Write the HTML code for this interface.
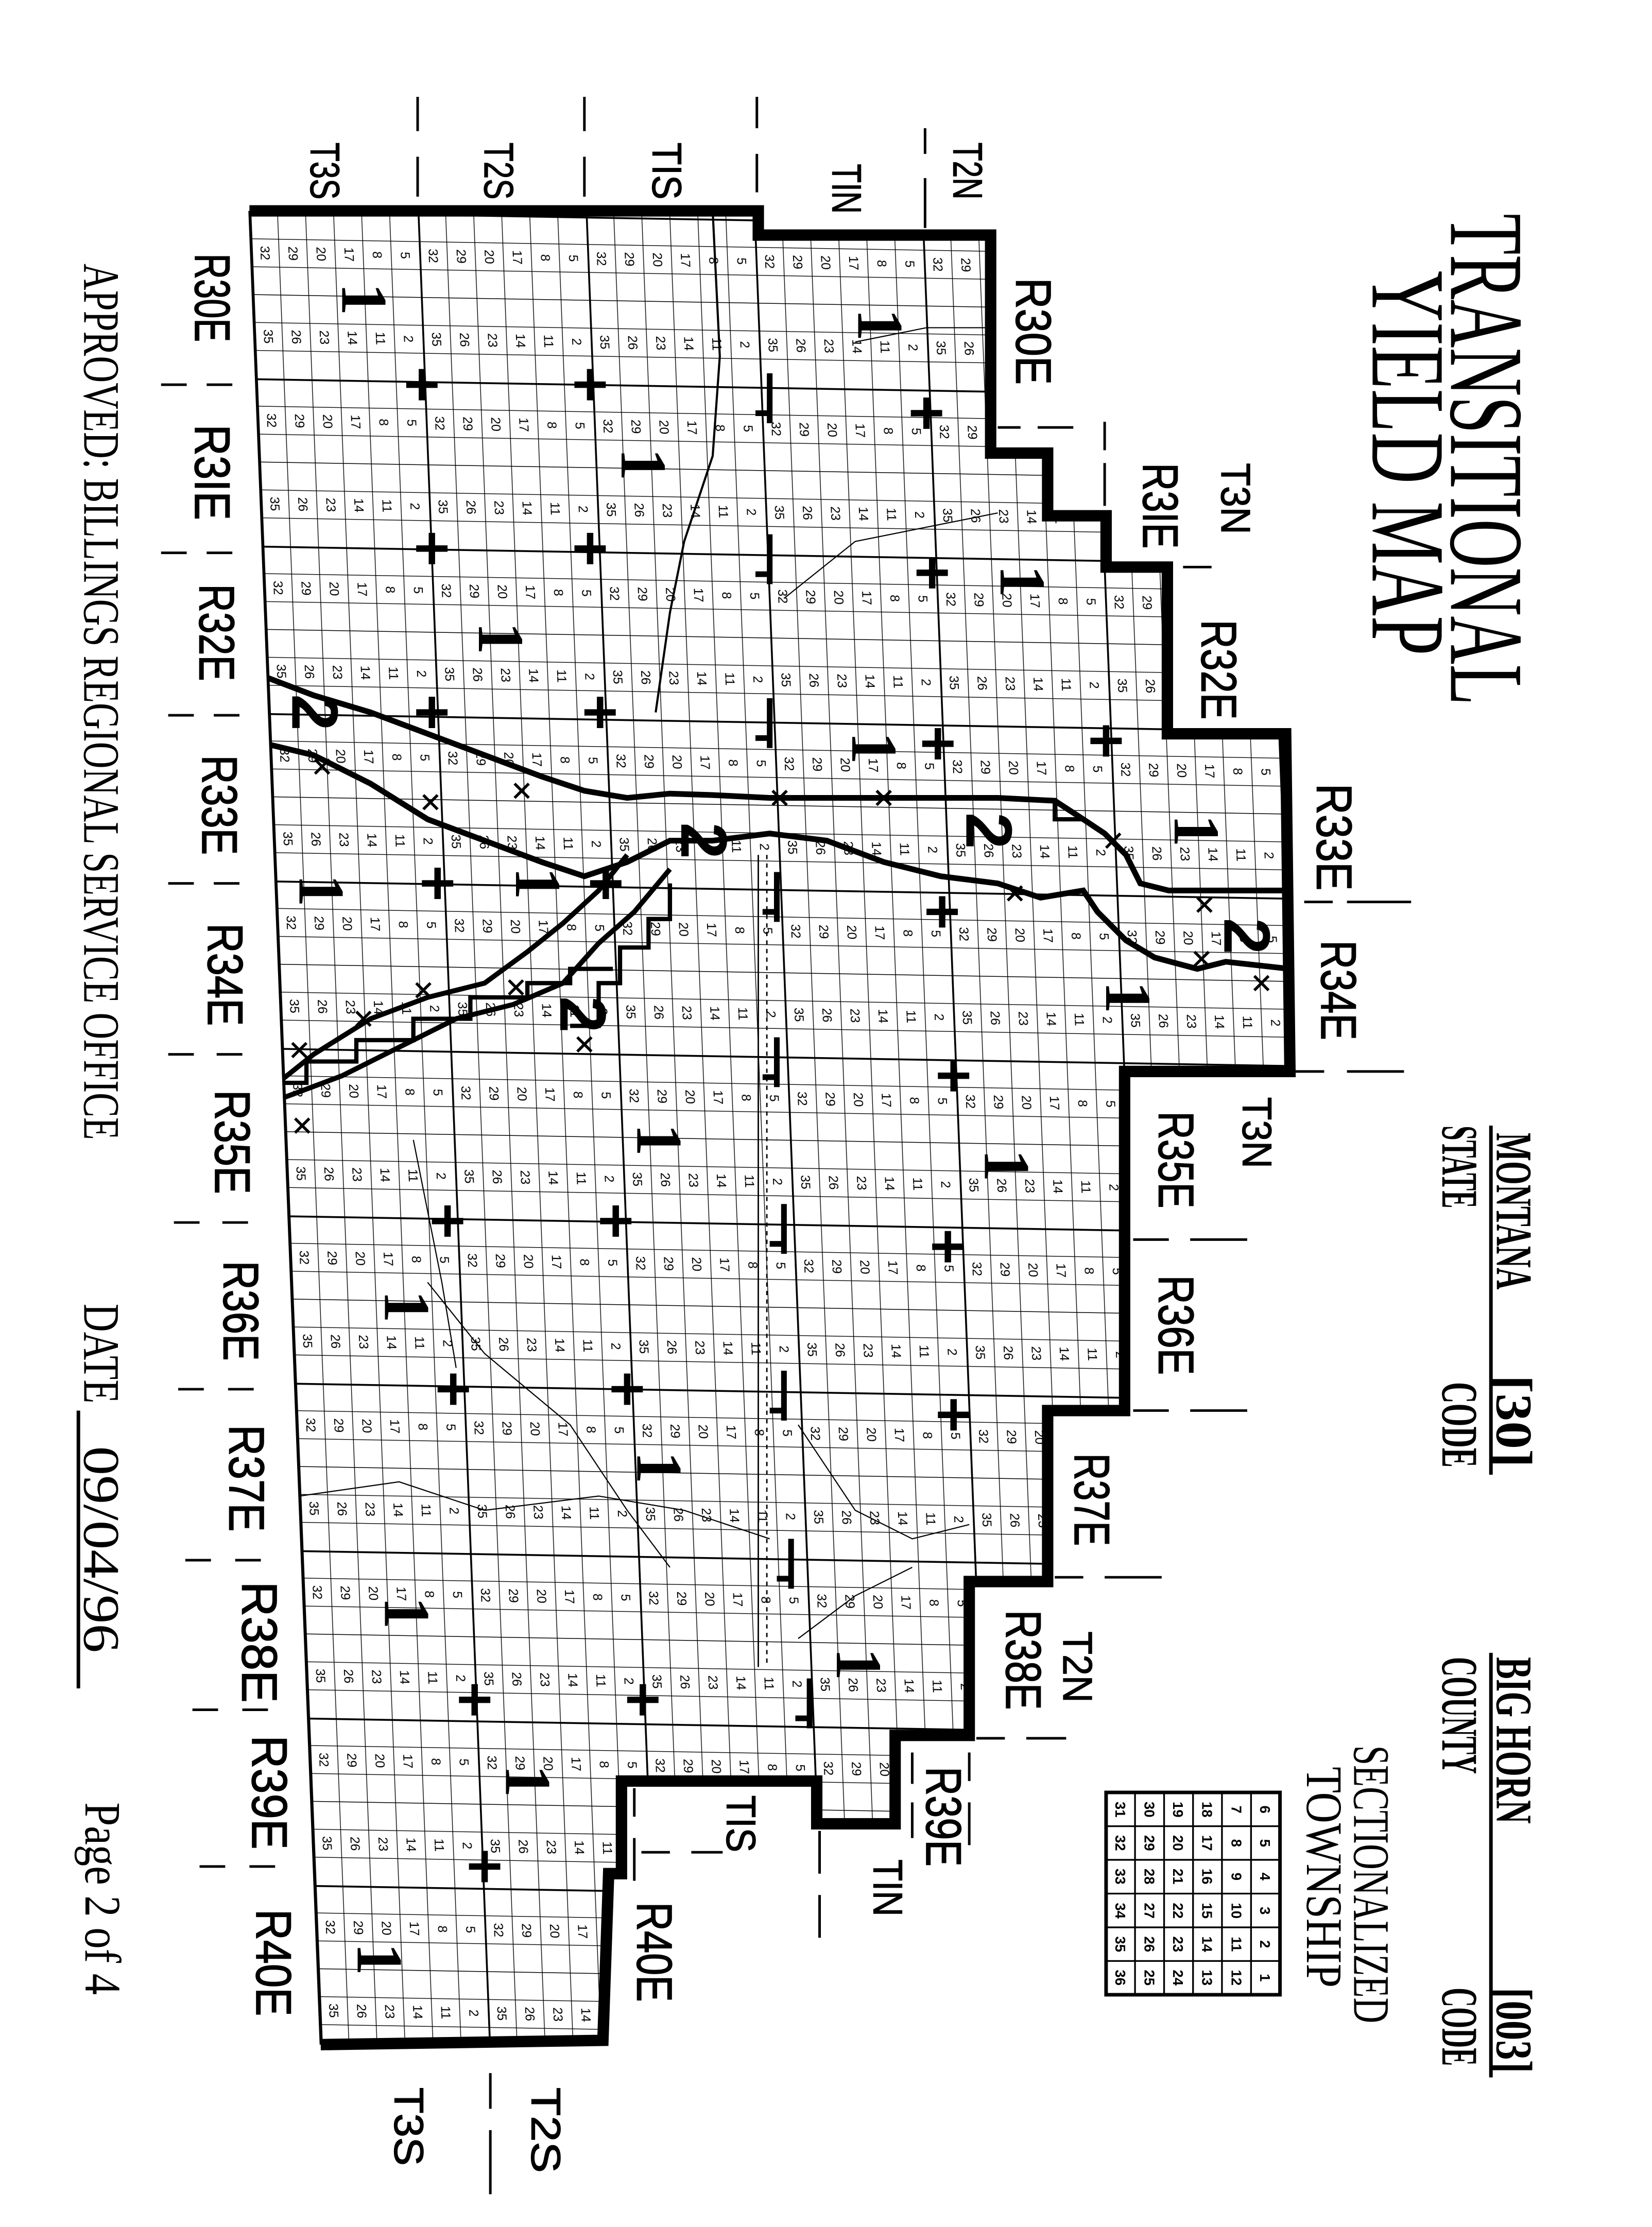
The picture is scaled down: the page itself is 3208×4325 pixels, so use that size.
<!DOCTYPE html>
<html><head><meta charset="utf-8"><style>html,body{margin:0;padding:0;background:#fff}svg{display:block}</style></head><body>
<svg width="3208" height="4325" viewBox="0 0 1159 1563" preserveAspectRatio="none" xmlns="http://www.w3.org/2000/svg">
<defs>
<pattern id="twp" patternUnits="userSpaceOnUse" width="118" height="117.5" patternTransform="matrix(1,0.017,0.039,1,175,148)">
<rect x="0" y="0" width="118" height="117.5" fill="#fff"/>
<g stroke="#000" stroke-width="0.5" fill="none">
<path d="M19.67 0V117.5M39.33 0V117.5M59 0V117.5M78.67 0V117.5M98.33 0V117.5M0 19.58H118M0 39.17H118M0 58.75H118M0 78.33H118M0 97.92H118"/>
</g>
<rect x="0" y="0" width="1.3" height="117.5" fill="#000"/>
<rect x="0" y="0" width="118" height="1.3" fill="#000"/>
<g font-family="Liberation Sans, sans-serif" font-size="9" text-anchor="middle" fill="#000">
<text transform="translate(6.6,29.4) rotate(90)">32</text>
<text transform="translate(26.3,29.4) rotate(90)">29</text>
<text transform="translate(46,29.4) rotate(90)">20</text>
<text transform="translate(65.6,29.4) rotate(90)">17</text>
<text transform="translate(85.3,29.4) rotate(90)">8</text>
<text transform="translate(105,29.4) rotate(90)">5</text>
<text transform="translate(6.6,88) rotate(90)">35</text>
<text transform="translate(26.3,88) rotate(90)">26</text>
<text transform="translate(46,88) rotate(90)">23</text>
<text transform="translate(65.6,88) rotate(90)">14</text>
<text transform="translate(85.3,88) rotate(90)">11</text>
<text transform="translate(105,88) rotate(90)">2</text>
</g>
</pattern>
<clipPath id="outline"><polygon points="175,148 532,148 532,165 695,165 695,318 735,318 735,362 776,362 776,398 819,398 819,515 902,515 905,752 789,752 789,990 735,990 735,1110 680,1110 680,1218 628,1218 628,1280 573,1280 573,1250 436,1250 436,1315 427,1315 423,1432 225,1435"/></clipPath>
</defs>
<rect width="1159" height="1563" fill="#fff"/>
<rect x="100" y="100" width="900" height="1400" fill="url(#twp)" clip-path="url(#outline)"/>

<!-- rivers / roads -->
<g clip-path="url(#outline)" fill="none" stroke="#000">
<polyline stroke-width="4" points="178,472 220,488 260,500 300,515 340,530 380,545 410,555 440,560 470,557 500,558 540,560 580,560 620,560 660,560 700,560 740,562 760,575 775,585 790,600 800,620 820,625 860,625 905,625"/>
<polyline stroke-width="4" points="178,520 220,530 260,550 300,575 340,590 380,605 410,615 440,605 470,590 500,590 540,585 580,590 620,605 660,615 700,620 730,630 760,625 770,640 790,660 810,672 840,680 860,675 905,680"/>
<polyline stroke-width="3.5" points="440,600 420,625 395,648 370,668 340,690 300,700 260,715 220,740 195,760 178,768"/>
<polyline stroke-width="3.5" points="470,610 445,640 420,662 395,690 360,705 320,715 280,735 240,755 200,770"/>
<polyline stroke-width="3" points="178,760 215,760 215,745 250,745 250,730 290,730 290,715 330,715 330,700 370,700 370,690 400,690 400,680 430,680"/>
<polyline stroke-width="3" points="470,620 470,645 455,645 455,665 435,665 435,690 420,690 420,720 400,720"/>
<polyline stroke-width="3" points="740,560 740,575 760,575 M820,600 850,600 850,620 890,620 890,700 850,700 850,680"/>
<polyline stroke-width="1" points="532,600 532,1170"/>
<polyline stroke-width="1" stroke-dasharray="3,3" points="538,600 538,1170"/>
<polyline stroke-width="1.5" points="500,148 505,250 500,320 480,380 470,430 460,500"/>
<polyline stroke-width="0.8" points="560,1000 600,1060 640,1080 680,1070"/>
<polyline stroke-width="0.8" points="300,900 340,950 400,1000 440,1060 470,1100"/>
<polyline stroke-width="0.8" points="210,1050 280,1040 340,1060 420,1050 480,1060 540,1080"/>
<polyline stroke-width="0.8" points="560,1150 600,1120 640,1100"/>
<polyline stroke-width="0.8" points="290,800 300,850 310,900 320,960"/>
<polyline stroke-width="0.8" points="600,240 650,230 700,230"/>
<polyline stroke-width="0.8" points="550,420 600,380 650,370 700,360"/>
</g>

<!-- outline -->
<polyline fill="none" stroke="#000" stroke-width="8" stroke-linejoin="miter" points="175,148 532,148 532,165 695,165 695,318 735,318 735,362 776,362 776,398 819,398 819,515 902,515 905,752 789,752 789,990 735,990 735,1110 680,1110 680,1218 628,1218 628,1280 573,1280 573,1250 436,1250 436,1315 427,1315 423,1432 225,1435"/>
<line x1="175" y1="148" x2="225" y2="1435" stroke="#000" stroke-width="1.5"/>

<!-- markers 1 -->
<g font-family="Liberation Serif, serif" font-weight="bold" font-size="46" text-anchor="middle" fill="#000">
<text transform="translate(240,210) rotate(90)">1</text>
<text transform="translate(602,228) rotate(90)">1</text>
<text transform="translate(436,326) rotate(90)">1</text>
<text transform="translate(702,408) rotate(90)">1</text>
<text transform="translate(336,448) rotate(90)">1</text>
<text transform="translate(598,525) rotate(90)">1</text>
<text transform="translate(824,583) rotate(90)">1</text>
<text transform="translate(210,625) rotate(90)">1</text>
<text transform="translate(362,620) rotate(90)">1</text>
<text transform="translate(776,700) rotate(90)">1</text>
<text transform="translate(447,800) rotate(90)">1</text>
<text transform="translate(691,818) rotate(90)">1</text>
<text transform="translate(270,917) rotate(90)">1</text>
<text transform="translate(447,1030) rotate(90)">1</text>
<text transform="translate(270,1132) rotate(90)">1</text>
<text transform="translate(587,1168) rotate(90)">1</text>
<text transform="translate(355,1250) rotate(90)">1</text>
<text transform="translate(251,1375) rotate(90)">1</text>
</g>
<!-- markers 2 -->
<g font-family="Liberation Sans, sans-serif" font-weight="bold" font-size="46" text-anchor="middle" fill="#000">
<text transform="translate(205,500) rotate(90)">2</text>
<text transform="translate(478,590) rotate(90)">2</text>
<text transform="translate(678,583) rotate(90)">2</text>
<text transform="translate(859,657) rotate(90)">2</text>
<text transform="translate(393,712) rotate(90)">2</text>
</g>
<!-- markers + -->
<g stroke="#000" stroke-width="4.5" fill="none">
<path d="M285 270h22M296 259v22 M403 270h22M414 259v22 M639 290h22M650 279v22 M292 385h22M303 374v22 M403 385h22M414 374v22 M643 402h22M654 391v22 M292 500h22M303 489v22 M410 500h22M421 489v22 M647 522h22M658 511v22 M765 520h22M776 509v22 M296 620h22M307 609v22 M414 620h22M425 609v22 M650 640h22M661 629v22 M658 755h22M669 744v22 M303 857h22M314 846v22 M421 857h22M432 846v22 M654 875h22M665 864v22 M307 975h22M318 964v22 M429 975h22M440 964v22 M658 993h22M669 982v22 M322 1193h22M333 1182v22 M440 1193h22M451 1182v22 M329 1310h22M340 1299v22"/>
<path stroke-width="4" d="M540 262v35M530 290h12 M540 375v35M530 403h12 M540 490v35M530 518h12 M545 612v35M535 640h12 M545 728v35M535 756h12 M550 845v35M540 873h12 M550 962v35M540 990h12 M555 1080v35M545 1108h12 M568 1178v35M558 1206h12"/>
</g>
<!-- X marks -->
<g stroke="#000" stroke-width="2" fill="none">
<path d="M221,533l10,10m0,-10l-10,10 M297,558l10,10m0,-10l-10,10 M361,550l10,10m0,-10l-10,10 M542,555l10,10m0,-10l-10,10 M615,555l10,10m0,-10l-10,10 M707,622l10,10m0,-10l-10,10 M776,585l10,10m0,-10l-10,10 M840,630l10,10m0,-10l-10,10 M838,668l10,10m0,-10l-10,10 M880,685l10,10m0,-10l-10,10 M292,690l10,10m0,-10l-10,10 M357,688l10,10m0,-10l-10,10 M405,728l10,10m0,-10l-10,10 M205,732l10,10m0,-10l-10,10 M207,785l10,10m0,-10l-10,10 M250,710l10,10m0,-10l-10,10"/>
</g>

<!-- ticks -->
<g stroke="#000" stroke-width="1.8">
<path d="M113 270h18M145 270h18 M113 388h18M145 388h18 M118 502h18M150 502h18 M118 620h18M150 620h18 M118 740h18M152 740h18 M122 858h18M156 858h18 M125 975h18M160 975h18 M130 1095h18M165 1095h18 M135 1200h18M170 1200h18 M140 1310h18M175 1310h18"/>
<path d="M293 68v24M293 110v28 M410 68v24M410 110v28 M531 68v22M531 108v27 M649 90v18M649 125v35"/>
<path d="M344 1455v25M344 1495v45"/>
<path d="M700 300h16M728 300h25 M775 296v20M775 325v30 M792 398h20M830 398h20 M915 633h20M945 633h45 M909 752h20M945 752h40 M795 870h25M835 870h40 M795 990h25M835 990h40 M740 1107h20M775 1107h40 M685 1220h20M720 1220h28 M680 1230v20M680 1265v30 M575 1285v30M575 1330v30 M445 1255v20M445 1290v30 M450 1300h20M485 1300h22 M640 1230v22M640 1265v25"/>
</g>

<!-- sans labels -->
<g font-family="Liberation Sans, sans-serif" font-size="35" fill="#000" stroke="#000" stroke-width="0.6" lengthAdjust="spacingAndGlyphs">
<text transform="translate(137,178) rotate(90)" textLength="62" lengthAdjust="spacingAndGlyphs">R30E</text>
<text transform="translate(137,298) rotate(90)" textLength="67" lengthAdjust="spacingAndGlyphs">R3IE</text>
<text transform="translate(140,410) rotate(90)" textLength="68" lengthAdjust="spacingAndGlyphs">R32E</text>
<text transform="translate(142,530) rotate(90)" textLength="70" lengthAdjust="spacingAndGlyphs">R33E</text>
<text transform="translate(146,648) rotate(90)" textLength="72" lengthAdjust="spacingAndGlyphs">R34E</text>
<text transform="translate(151,765) rotate(90)" textLength="73" lengthAdjust="spacingAndGlyphs">R35E</text>
<text transform="translate(157,885) rotate(90)" textLength="70" lengthAdjust="spacingAndGlyphs">R36E</text>
<text transform="translate(161,1000) rotate(90)" textLength="75" lengthAdjust="spacingAndGlyphs">R37E</text>
<text transform="translate(170,1110) rotate(90)" textLength="85" lengthAdjust="spacingAndGlyphs">R38E</text>
<text transform="translate(177,1218) rotate(90)" textLength="80" lengthAdjust="spacingAndGlyphs">R39E</text>
<text transform="translate(180,1340) rotate(90)" textLength="75" lengthAdjust="spacingAndGlyphs">R40E</text>
<text transform="translate(713,195) rotate(90)" textLength="75" lengthAdjust="spacingAndGlyphs">R30E</text>
<text transform="translate(802,325) rotate(90)" textLength="60" lengthAdjust="spacingAndGlyphs">R3IE</text>
<text transform="translate(843,435) rotate(90)" textLength="70" lengthAdjust="spacingAndGlyphs">R32E</text>
<text transform="translate(924,550) rotate(90)" textLength="75" lengthAdjust="spacingAndGlyphs">R33E</text>
<text transform="translate(927,660) rotate(90)" textLength="70" lengthAdjust="spacingAndGlyphs">R34E</text>
<text transform="translate(813,780) rotate(90)" textLength="68" lengthAdjust="spacingAndGlyphs">R35E</text>
<text transform="translate(813,895) rotate(90)" textLength="70" lengthAdjust="spacingAndGlyphs">R36E</text>
<text transform="translate(754,1020) rotate(90)" textLength="65" lengthAdjust="spacingAndGlyphs">R37E</text>
<text transform="translate(706,1130) rotate(90)" textLength="70" lengthAdjust="spacingAndGlyphs">R38E</text>
<text transform="translate(650,1240) rotate(90)" textLength="70" lengthAdjust="spacingAndGlyphs">R39E</text>
<text transform="translate(447,1335) rotate(90)" textLength="70" lengthAdjust="spacingAndGlyphs">R40E</text>
</g>
<g font-family="Liberation Sans, sans-serif" font-size="29" fill="#000" stroke="#000" stroke-width="0.5">
<text transform="translate(218,100) rotate(90)" textLength="40" lengthAdjust="spacingAndGlyphs">T3S</text>
<text transform="translate(340,100) rotate(90)" textLength="40" lengthAdjust="spacingAndGlyphs">T2S</text>
<text transform="translate(458,100) rotate(90)" textLength="40" lengthAdjust="spacingAndGlyphs">TIS</text>
<text transform="translate(584,115) rotate(90)" textLength="35" lengthAdjust="spacingAndGlyphs">TIN</text>
<text transform="translate(669,100) rotate(90)" textLength="40" lengthAdjust="spacingAndGlyphs">T2N</text>
<text transform="translate(857,325) rotate(90)" textLength="50" lengthAdjust="spacingAndGlyphs">T3N</text>
<text transform="translate(872,770) rotate(90)" textLength="50" lengthAdjust="spacingAndGlyphs">T3N</text>
<text transform="translate(746,1145) rotate(90)" textLength="50" lengthAdjust="spacingAndGlyphs">T2N</text>
<text transform="translate(613,1305) rotate(90)" textLength="40" lengthAdjust="spacingAndGlyphs">TIN</text>
<text transform="translate(510,1260) rotate(90)" textLength="40" lengthAdjust="spacingAndGlyphs">TIS</text>
<text transform="translate(277,1465) rotate(90)" textLength="55" lengthAdjust="spacingAndGlyphs">T3S</text>
<text transform="translate(373,1465) rotate(90)" textLength="60" lengthAdjust="spacingAndGlyphs">T2S</text>
</g>

<!-- serif headings -->
<g font-family="Liberation Serif, serif" fill="#000">
<text transform="translate(1018,150) rotate(90)" font-size="74" textLength="345" lengthAdjust="spacingAndGlyphs">TRANSITIONAL</text>
<text transform="translate(963,190) rotate(90)" font-size="74" textLength="270" lengthAdjust="spacingAndGlyphs">YIELD MAP</text>
<g font-size="36" font-weight="bold">
<text transform="translate(1050,795) rotate(90)" textLength="110" lengthAdjust="spacingAndGlyphs">MONTANA</text>
<text transform="translate(1050,965) rotate(90)" textLength="65" lengthAdjust="spacingAndGlyphs">[30]</text>
<text transform="translate(1012,790) rotate(90)" textLength="58" lengthAdjust="spacingAndGlyphs">STATE</text>
<text transform="translate(1012,970) rotate(90)" textLength="60" lengthAdjust="spacingAndGlyphs">CODE</text>
<text transform="translate(1050,1163) rotate(90)" textLength="117" lengthAdjust="spacingAndGlyphs">BIG HORN</text>
<text transform="translate(1050,1395) rotate(90)" textLength="60" lengthAdjust="spacingAndGlyphs">[003]</text>
<text transform="translate(1012,1163) rotate(90)" textLength="82" lengthAdjust="spacingAndGlyphs">COUNTY</text>
<text transform="translate(1012,1395) rotate(90)" textLength="55" lengthAdjust="spacingAndGlyphs">CODE</text>
</g>
<g font-size="36">
<text transform="translate(950,1225) rotate(90)" textLength="195" lengthAdjust="spacingAndGlyphs">SECTIONALIZED</text>
<text transform="translate(917,1240) rotate(90)" textLength="155" lengthAdjust="spacingAndGlyphs">TOWNSHIP</text>
<text transform="translate(59,185) rotate(90)" textLength="615" lengthAdjust="spacingAndGlyphs">APPROVED: BILLINGS REGIONAL SERVICE OFFICE</text>
<text transform="translate(59,915) rotate(90)" textLength="70" lengthAdjust="spacingAndGlyphs">DATE</text>
<text transform="translate(59,1015) rotate(90)" textLength="145" lengthAdjust="spacingAndGlyphs">09/04/96</text>
<text transform="translate(60,1265) rotate(90)" textLength="135" lengthAdjust="spacingAndGlyphs">Page 2 of 4</text>
</g>
</g>
<g stroke="#000" stroke-width="2.5">
<line x1="1046" y1="790" x2="1046" y2="1035"/>
<line x1="1046" y1="1160" x2="1046" y2="1458"/>
<line x1="55" y1="990" x2="55" y2="1185"/>
</g>

<!-- sectionalized township table -->
<g stroke="#000" fill="none">
<rect x="776" y="1258" width="122" height="142" stroke-width="2.5"/>
<path stroke-width="1.2" d="M796.3 1258v142M816.7 1258v142M837 1258v142M857.3 1258v142M877.7 1258v142 M776 1281.7h122M776 1305.3h122M776 1329h122M776 1352.7h122M776 1376.3h122"/>
</g>
<g font-family="Liberation Sans, sans-serif" font-weight="bold" font-size="10" text-anchor="middle" fill="#000">
<text transform="translate(782.5,1270) rotate(90)">31</text><text transform="translate(782.5,1293.5) rotate(90)">32</text><text transform="translate(782.5,1317) rotate(90)">33</text><text transform="translate(782.5,1341) rotate(90)">34</text><text transform="translate(782.5,1364.5) rotate(90)">35</text><text transform="translate(782.5,1388) rotate(90)">36</text>
<text transform="translate(803,1270) rotate(90)">30</text><text transform="translate(803,1293.5) rotate(90)">29</text><text transform="translate(803,1317) rotate(90)">28</text><text transform="translate(803,1341) rotate(90)">27</text><text transform="translate(803,1364.5) rotate(90)">26</text><text transform="translate(803,1388) rotate(90)">25</text>
<text transform="translate(823,1270) rotate(90)">19</text><text transform="translate(823,1293.5) rotate(90)">20</text><text transform="translate(823,1317) rotate(90)">21</text><text transform="translate(823,1341) rotate(90)">22</text><text transform="translate(823,1364.5) rotate(90)">23</text><text transform="translate(823,1388) rotate(90)">24</text>
<text transform="translate(843.5,1270) rotate(90)">18</text><text transform="translate(843.5,1293.5) rotate(90)">17</text><text transform="translate(843.5,1317) rotate(90)">16</text><text transform="translate(843.5,1341) rotate(90)">15</text><text transform="translate(843.5,1364.5) rotate(90)">14</text><text transform="translate(843.5,1388) rotate(90)">13</text>
<text transform="translate(864,1270) rotate(90)">7</text><text transform="translate(864,1293.5) rotate(90)">8</text><text transform="translate(864,1317) rotate(90)">9</text><text transform="translate(864,1341) rotate(90)">10</text><text transform="translate(864,1364.5) rotate(90)">11</text><text transform="translate(864,1388) rotate(90)">12</text>
<text transform="translate(884,1270) rotate(90)">6</text><text transform="translate(884,1293.5) rotate(90)">5</text><text transform="translate(884,1317) rotate(90)">4</text><text transform="translate(884,1341) rotate(90)">3</text><text transform="translate(884,1364.5) rotate(90)">2</text><text transform="translate(884,1388) rotate(90)">1</text>
</g>
</svg>
</body></html>
